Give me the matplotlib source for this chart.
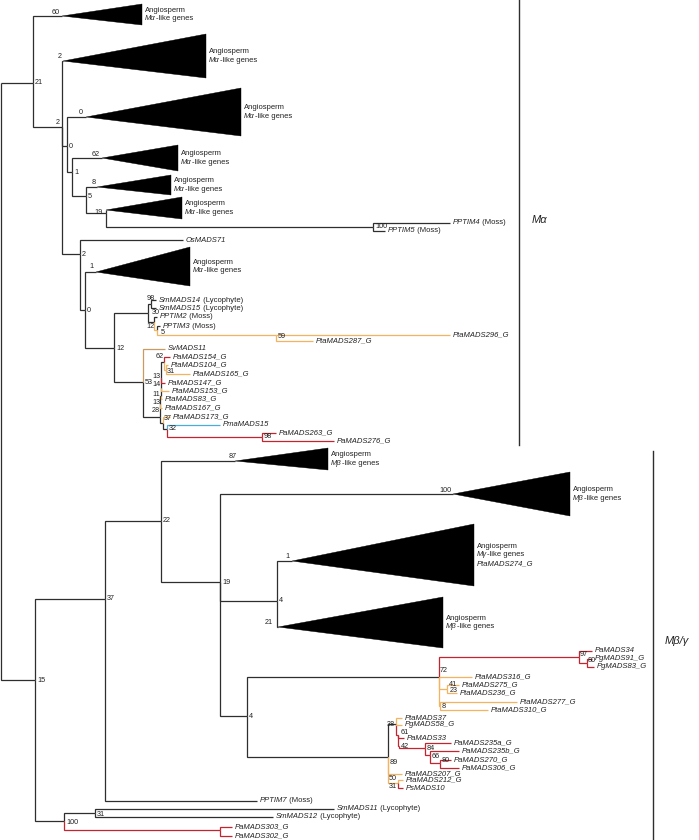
import matplotlib
matplotlib.use("Agg")
import matplotlib.pyplot as plt
from matplotlib.patches import Polygon

plt.rcParams['font.family'] = ['Liberation Sans', 'DejaVu Sans']

K = '#2e2e2e'
RED = '#c4232f'
TAN = '#f4b45f'
BLUE = '#49acd9'
BRN = '#c89a64'

# internal nodes: name, parent, x (depth), y (row), support, branch colour
nodes = [
    ('root', None, 1, 83, '', K),
    ('n21', 'root', 33, 83, '21', K),
    ('n2a', 'n21', 62, 127, '2', K),
    ('n0a', 'n2a', 67, 146, '0', K),
    ('n1a', 'n0a', 72, 172, '1', K),
    ('n5', 'n1a', 86, 196, '5', K),
    ('n19a', 'n5', 106, 213, '19', K),
    ('n100a', 'n19a', 373, 227, '100', K),
    ('n2b', 'n2a', 80, 254, '2', K),
    ('n0b', 'n2b', 85, 310, '0', K),
    ('n12', 'n0b', 114, 348, '12', K),
    ('nP', 'n12', 148, 313, '30', K),
    ('nQ', 'nP', 151, 304, '98', K),
    ('nR', 'nP', 154, 322, '12', K),
    ('nS', 'nR', 157, 330, '5', TAN),
    ('n59', 'nS', 276, 335, '59', TAN),
    ('n53', 'n12', 143, 382, '53', K),
    ('n28', 'n53', 160, 417, '28', K),
    ('n13b', 'n28', 160.3, 404, '13', K),
    ('n11', 'n13b', 160.6, 396, '11', K),
    ('n14', 'n11', 160.9, 388, '14', K),
    ('n13a', 'n14', 161.2, 378, '13', K),
    ('n62', 'n13a', 164, 362, '62', K),
    ('n31', 'n62', 166, 370, '31', TAN),
    ('n37', 'n28', 162.5, 423, '37', K),
    ('n32', 'n37', 167, 429, '32', K),
    ('n98', 'n32', 262, 437, '98', RED),
    ('n15', 'root', 35, 680, '15', K),
    ('n37b', 'n15', 105, 599, '37', K),
    ('n22', 'n37b', 161, 521, '22', K),
    ('n19b', 'n22', 220, 582, '19', K),
    ('n4a', 'n19b', 277, 601, '4', K),
    ('n4b', 'n19b', 247, 716, '4', K),
    ('n72', 'n4b', 439, 677, '72', K),
    ('n97', 'n72', 579, 657, '97', RED),
    ('n80a', 'n97', 587, 663, '80', RED),
    ('n41', 'n72', 447, 689, '41', TAN),
    ('n8', 'n72', 440, 706, '8', TAN),
    ('n89', 'n4b', 388, 757, '89', K),
    ('n38', 'n89', 396, 724, '38', K),
    ('n61', 'n38', 398, 735, '61', RED),
    ('n42', 'n61', 399, 746, '42', RED),
    ('n84', 'n42', 425, 748, '84', RED),
    ('n66', 'n84', 430, 755, '66', RED),
    ('n80b', 'n66', 440, 763, '80', RED),
    ('n50', 'n89', 398, 783, '50', TAN),
    ('n100c', 'n15', 64, 821, '100', K),
    ('n31c', 'n100c', 95, 813, '31', K),
    ('nPa', 'n100c', 220, 830, '', RED),
]

# leaves: gene, plain suffix, parent, tip x, row, colour, support
leaves = [
    ('PPTIM4', ' (Moss)', 'n100a', 450, 223, K, ''),
    ('PPTIM5', ' (Moss)', 'n100a', 385, 231, K, ''),
    ('OsMADS71', '', 'n2b', 183, 240, K, ''),
    ('SmMADS14', ' (Lycophyte)', 'nQ', 156, 300, K, ''),
    ('SmMADS15', ' (Lycophyte)', 'nQ', 156, 308, K, ''),
    ('PPTIM2', ' (Moss)', 'nR', 157, 317, K, ''),
    ('PPTIM3', ' (Moss)', 'nS', 160, 326, K, ''),
    ('PtaMADS296_G', '', 'n59', 450, 335, TAN, ''),
    ('PtaMADS287_G', '', 'n59', 313, 341, TAN, ''),
    ('SvMADS11', '', 'n53', 165, 349, BRN, ''),
    ('PaMADS154_G', '', 'n62', 170, 357, RED, ''),
    ('PtaMADS104_G', '', 'n31', 168, 365, TAN, ''),
    ('PtaMADS165_G', '', 'n31', 190, 374, TAN, ''),
    ('PaMADS147_G', '', 'n13a', 165, 383, RED, ''),
    ('PtaMADS153_G', '', 'n14', 169, 391, TAN, ''),
    ('PtaMADS83_G', '', 'n11', 162, 399, TAN, ''),
    ('PtaMADS167_G', '', 'n13b', 162, 408, TAN, ''),
    ('PtaMADS173_G', '', 'n37', 170, 417, TAN, ''),
    ('PmaMADS15', '', 'n32', 220, 425, BLUE, ''),
    ('PaMADS263_G', '', 'n98', 276, 433, RED, ''),
    ('PaMADS276_G', '', 'n98', 334, 441, RED, ''),
    ('PaMADS34', '', 'n97', 592, 651, RED, ''),
    ('PgMADS91_G', '', 'n80a', 592, 659, RED, ''),
    ('PgMADS83_G', '', 'n80a', 594, 667, RED, ''),
    ('PtaMADS316_G', '', 'n72', 472, 677, TAN, ''),
    ('PtaMADS275_G', '', 'n41', 459, 685, TAN, ''),
    ('PtaMADS236_G', '', 'n41', 457, 693, TAN, '23'),
    ('PtaMADS277_G', '', 'n8', 517, 702, TAN, ''),
    ('PtaMADS310_G', '', 'n8', 488, 710, TAN, ''),
    ('PtaMADS37', '', 'n38', 402, 718, TAN, ''),
    ('PgMADS58_G', '', 'n38', 402, 725, TAN, ''),
    ('PaMADS33', '', 'n61', 404, 738, RED, ''),
    ('PaMADS235a_G', '', 'n84', 451, 743, RED, ''),
    ('PaMADS235b_G', '', 'n66', 459, 751, RED, ''),
    ('PaMADS270_G', '', 'n80b', 451, 760, RED, ''),
    ('PaMADS306_G', '', 'n80b', 459, 768, RED, ''),
    ('PtaMADS207_G', '', 'n89', 402, 774, TAN, ''),
    ('PtaMADS212_G', '', 'n50', 403, 780, TAN, ''),
    ('PsMADS10', '', 'n50', 403, 788, RED, '31'),
    ('PPTIM7', ' (Moss)', 'n37b', 257, 801, K, ''),
    ('SmMADS11', ' (Lycophyte)', 'n31c', 334, 809, K, ''),
    ('SmMADS12', ' (Lycophyte)', 'n31c', 273, 817, K, ''),
    ('PaMADS303_G', '', 'nPa', 232, 827, RED, ''),
    ('PaMADS302_G', '', 'nPa', 232, 836, RED, ''),
]

# collapsed clades: name, parent, apex x, apex y, right x, top, bottom, support, kind
clades = [
    ('c60', 'n21', 62, 16, 142, 4, 25, '60', 'a'),
    ('c2', 'n2a', 63, 61, 206, 34, 78, '2', 'a'),
    ('c0', 'n0a', 86, 117, 241, 88, 136, '0', 'a'),
    ('c62', 'n1a', 102, 158, 178, 145, 171, '62', 'a'),
    ('c8', 'n5', 97, 187, 171, 175, 195, '8', 'a'),
    ('c19', 'n19a', 106, 210, 182, 197, 219, '', 'a'),
    ('c1', 'n0b', 96, 272, 190, 247, 286, '1', 'a'),
    ('c87', 'n22', 235, 461, 328, 448, 470, '87', 'b'),
    ('c100', 'n19b', 453, 494, 570, 472, 516, '100', 'b'),
    ('c1g', 'n4a', 292, 561, 474, 524, 586, '1', 'g'),
    ('c21', 'n4a', 278, 627, 443, 597, 648, '21', 'b'),
]

clade_text = {
    'a': [[('Angiosperm', 'normal')], [('M\u03b1', 'italic'), ('-like genes', 'normal')]],
    'b': [[('Angiosperm', 'normal')], [('M\u03b2', 'italic'), ('-like genes', 'normal')]],
    'g': [[('Angiosperm', 'normal')], [('M\u03b3', 'italic'), ('-like genes', 'normal')],
          [('PtaMADS274_G', 'italic')]],
}

# support label offsets (dx, dy, ha); default is just right of the node
sup_pos = {
    'n2a': (-2.5, -4, 'right'), 'n19a': (-3, 0, 'right'), 'nP': (4, -1, 'left'),
    'nQ': (-0.5, -6, 'center'), 'nR': (-4, 5, 'center'), 'nS': (4, 3, 'left'),
    'n59': (2, 1, 'left'), 'n53': (1.5, 1, 'left'), 'n28': (-4, -6, 'center'),
    'n13b': (-4.3, -2, 'center'), 'n11': (-4.6, -2, 'center'),
    'n14': (-4.4, -4, 'center'), 'n13a': (-5.2, -1, 'center'),
    'n62': (-4, -5, 'center'), 'n31': (1, 1.5, 'left'), 'n37': (1, -4, 'left'),
    'n32': (1.5, 0, 'left'), 'n72': (1, -6, 'left'), 'n97': (1, -2, 'left'),
    'n80a': (1, -2, 'left'), 'n41': (2, -5, 'left'), 'n8': (1.5, 0, 'left'),
    'n89': (1.5, 6, 'left'), 'n38': (-1, 0, 'right'), 'n61': (3, -3, 'left'),
    'n66': (2, 1, 'left'), 'n80b': (2, -2, 'left'), 'n50': (-1, -4, 'right'),
    'n100c': (2, 1, 'left'), 'n31c': (2, 1, 'left'),
    'PtaMADS236_G': (3, -3, 'left'), 'PsMADS10': (-1, -1, 'right'),
    'c60': (-2, -4, 'right'), 'c2': (-1, -4, 'right'), 'c0': (-3, -4, 'right'),
    'c62': (-2, -3, 'right'), 'c8': (-1, -5, 'right'), 'c1': (-2, -5, 'right'),
    'c87': (2, -4, 'right'), 'c100': (-1, -4, 'right'), 'c1g': (-2, -4, 'right'),
    'c21': (-5, -5, 'right'),
}

# group bars: label, bar x, top, bottom, text x, text y
groups = [
    ('M\u03b1', 519, 0, 445, 532, 220),
    ('M\u03b2/\u03b3', 653, 451, 840, 665, 641),
]

LW = 0.9
FS = 5.5
FS_SUP = 5.2

fig = plt.figure(figsize=(6.99, 8.4), dpi=100)
ax = fig.add_axes([0, 0, 1, 1])
ax.set_xlim(0, 699)
ax.set_ylim(840, 0)
ax.axis('off')

pos = {n[0]: (n[2], n[3]) for n in nodes}


def branch(parent, x, y, col):
    px, py = pos[parent]
    z = 2 if col == K else 3
    ax.plot([px, px, x], [py, y, y], color=col, lw=LW, zorder=z,
            solid_joinstyle='miter', solid_capstyle='butt')


def support(name, text, x, y, default=(2, 0, 'left')):
    if not text:
        return
    dx, dy, ha = sup_pos.get(name, default)
    ax.text(x + dx, y + dy, text, fontsize=FS_SUP, ha=ha, va='center',
            color='#222222', zorder=5)


def mixed(x, y, parts, size=FS):
    t = ax.text(x, y, parts[0][0], style=parts[0][1], fontsize=size,
                ha='left', va='center', color='#222222')
    for s, st in parts[1:]:
        t = ax.annotate(s, xy=(1, 0), xycoords=t, style=st, fontsize=size,
                        ha='left', va='bottom', color='#222222')


for name, parent, x, y, sup, col in nodes:
    if parent is not None:
        branch(parent, x, y, col)
        support(name, sup, x, y)

for gene, suffix, parent, x, y, col, sup in leaves:
    branch(parent, x, y, col)
    support(gene, sup, pos[parent][0], y)
    parts = [(gene, 'italic')]
    if suffix:
        parts.append((suffix, 'normal'))
    mixed(x + 2.5, y, parts)

for name, parent, x, y, xr, yt, yb, sup, kind in clades:
    branch(parent, x, y, K)
    ax.add_patch(Polygon([(x, y), (xr, yt), (xr, yb)], closed=True,
                         facecolor='black', edgecolor='black', lw=0.3, zorder=4))
    support(name, sup, x, y, default=(-2, -4, 'right'))
    lines = clade_text[kind]
    mid = (yt + yb) / 2
    for i, parts in enumerate(lines):
        ly = mid + (i - (len(lines) - 1) / 2) * 9
        mixed(xr + 3, ly, parts)

for label, bx, top, bot, tx, ty in groups:
    ax.plot([bx, bx], [top, bot], color=K, lw=1.0)
    ax.text(tx, ty, label, style='italic', fontsize=8, ha='left', va='center',
            color='#222222')

fig.savefig('out.png', dpi=100)
